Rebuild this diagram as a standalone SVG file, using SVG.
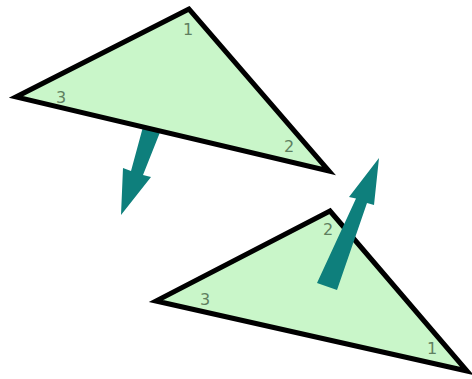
<svg xmlns="http://www.w3.org/2000/svg" width="472" height="379" viewBox="0 0 472 379">
<style>
.tri{fill:#c9f6c9;stroke:#000;stroke-width:5;stroke-linejoin:miter}
.arr{fill:#0e7f7c}
.lbl{font-family:"DejaVu Sans",Verdana,sans-serif;font-size:16px;fill:#5f7f5f;text-anchor:middle}
</style>
<rect width="472" height="379" fill="#fff"/>
<g id="normal1"><polygon class="arr" points="143.5,125 160.5,131 143,175 151,177 121,215 123,168 131,171"/></g>
<g id="triangle1">
<polygon class="tri" points="189,9 16,97 329,171"/>
<text class="lbl" x="188" y="35">1</text>
<text class="lbl" x="289" y="152">2</text>
<text class="lbl" x="61" y="103">3</text>
</g>
<g id="triangle2">
<polygon class="tri" points="330,211 156,301 467,371"/>
<text class="lbl" x="328" y="235">2</text>
<text class="lbl" x="205" y="305">3</text>
<text class="lbl" x="432" y="354">1</text>
</g>
<g id="normal2"><polygon class="arr" points="317,283 337,290 367,203 374,205 379,158 349,197 356,198.5"/></g>
</svg>
